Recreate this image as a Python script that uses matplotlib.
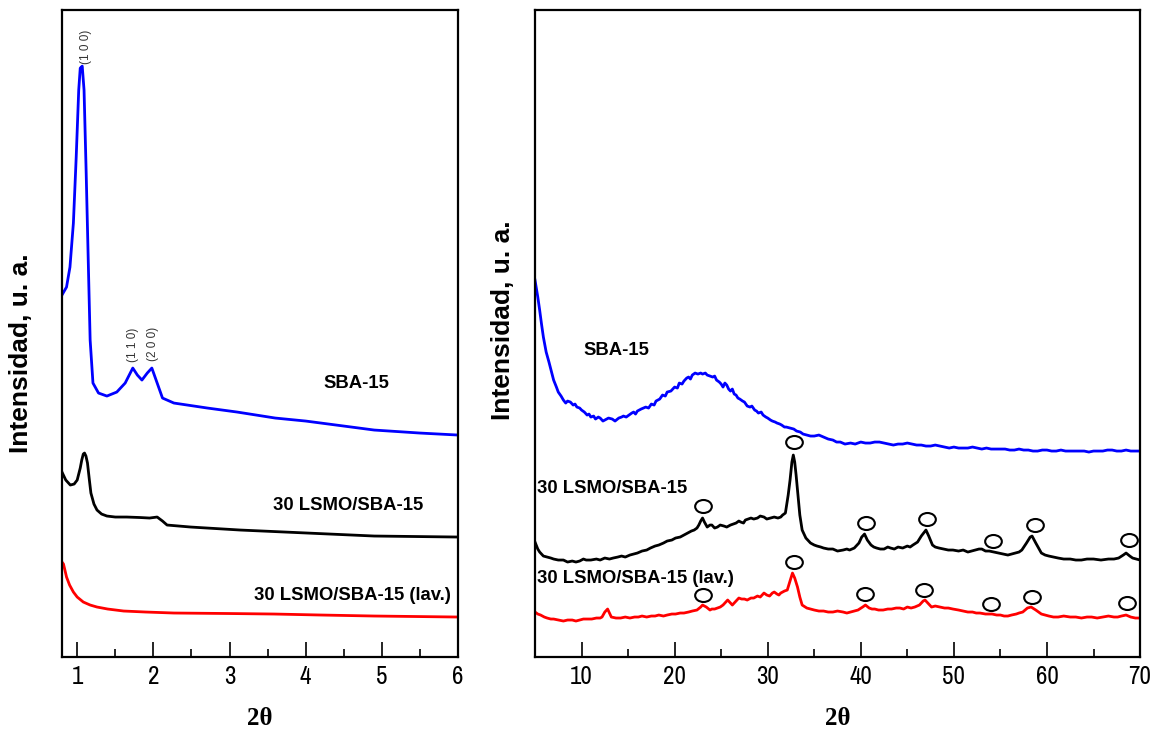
"""XRD patterns: SBA-15, 30 LSMO/SBA-15 and washed sample (low and wide angle)."""

import matplotlib

matplotlib.use("Agg")
import matplotlib.pyplot as plt
from matplotlib.path import Path
from matplotlib.transforms import Affine2D

# ---- low-angle panel (2theta 0.8-6), intensity in arbitrary units ----
low_sba_x = [0.8, 0.86, 0.905, 0.95, 0.987, 1.02, 1.04, 1.066, 1.09, 1.118, 1.149, 1.17, 1.207,
             1.28, 1.39, 1.52, 1.63, 1.73, 1.79, 1.85, 1.92, 1.98, 2.05, 2.12, 2.27, 2.71, 3.1,
             3.6, 4.0, 4.5, 4.9, 5.5, 6.0]
low_sba_y = [362, 370, 390, 434, 500, 567, 589, 591, 567, 484, 384, 317, 274,
             264, 261, 265, 274, 289, 282, 277, 284, 289, 274, 259, 254, 249, 245,
             239, 236, 231, 227, 224, 222]

low_lsmo_x = [0.8, 0.85, 0.91, 0.96, 1.0, 1.04, 1.06, 1.08, 1.096, 1.115, 1.135, 1.16, 1.18,
              1.22, 1.26, 1.32, 1.39, 1.5, 1.65, 1.83, 1.95, 2.05, 2.12, 2.18, 2.49, 3.14,
              4.02, 4.9, 6.0]
low_lsmo_y = [185, 177, 172, 173, 177, 189, 197, 203, 204, 201, 194, 177, 164,
              153, 147, 143, 141, 140, 140, 139.5, 139, 140, 136, 132, 130, 127,
              124, 121, 120]

low_lav_x = [0.8, 0.82, 0.86, 0.9, 0.95, 1.0, 1.08, 1.17, 1.26, 1.4, 1.61, 1.9, 2.27, 3.0,
             3.58, 4.2, 4.9, 6.0]
low_lav_y = [95, 93, 80, 72, 65, 60, 55, 52, 50, 48, 46, 45, 44, 43.5,
             43, 42, 41, 40]

low_hkl = ["(1 0 0)", "(1 1 0)", "(2 0 0)"]
low_hkl_x = [1.116, 1.734, 2.0]
low_hkl_y = [593, 295, 296]

# ---- wide-angle panel (2theta 5-70) ----
wide_sba_x = [5.0, 5.3, 5.5, 5.7, 5.9, 6.2, 6.5, 6.8, 7.0, 7.3, 7.5, 7.8, 8.05, 8.3, 8.5, 8.8,
              9.1, 9.3, 9.5, 9.8, 10.0, 10.3, 10.6, 10.8, 11.0, 11.3, 11.5, 11.8, 12.0, 12.3,
              12.5, 12.9, 13.3, 13.6, 14.0, 14.3, 14.5, 14.8, 15.1, 15.4, 15.6, 15.8, 16.0,
              16.4, 16.9, 17.2, 17.5, 17.8, 18.0, 18.4, 18.7, 19.0, 19.2, 19.6, 20.0, 20.3,
              20.5, 20.8, 21.0, 21.3, 21.5, 21.7, 21.9, 22.2, 22.5, 22.8, 23.0, 23.3, 23.5,
              23.8, 24.1, 24.3, 24.5, 24.8, 25.0, 25.2, 25.4, 25.6, 25.8, 26.0, 26.2, 26.4,
              26.6, 26.8, 27.0, 27.3, 27.5, 27.8, 28.1, 28.3, 28.6, 28.8, 29.0, 29.3, 29.5,
              29.8, 30.0, 30.3, 30.5, 30.8, 31.0, 31.3, 31.5, 31.8, 32.0, 32.4, 32.8, 33.1,
              33.5, 33.8, 34.2, 34.6, 35.0, 35.5, 36.0, 36.5, 37.0, 37.4, 37.8, 38.3, 38.9,
              39.4, 40, 40.5, 41, 41.5, 42, 42.5, 43, 43.5, 44, 44.5, 45, 45.5, 46, 46.5, 47,
              47.5, 48, 48.5, 49, 49.5, 50, 50.5, 51, 51.5, 52, 52.5, 53, 53.5, 54, 54.5, 55,
              55.5, 56, 56.5, 57, 57.5, 58, 58.5, 59, 59.5, 60, 60.5, 61, 61.5, 62, 62.5, 63,
              63.5, 64, 64.5, 65, 65.5, 66, 66.5, 67, 67.5, 68, 68.5, 69, 69.5, 70]
wide_sba_y = [377, 360, 347, 333, 320, 305, 295, 284, 277, 270, 265, 261, 257, 254, 256, 255,
              252, 253, 250, 249, 247, 245, 242, 243, 240, 241, 238, 240, 239, 236,
              237, 239, 238, 236, 239, 240, 241, 240, 242, 244, 245, 243, 246,
              248, 250, 249, 253, 252, 256, 258, 262, 261, 265, 266, 270, 269,
              274, 273, 276, 279, 280, 278, 282, 284, 283, 284, 283, 284, 282,
              281, 280, 281, 277, 275, 273, 270, 274, 272, 268, 266, 268, 263,
              262, 259, 258, 256, 255, 251, 250, 251, 247, 246, 244, 245, 242,
              240, 239, 237, 236, 235, 234, 233, 232, 230, 230, 229, 228, 226,
              225, 223, 222, 221, 221, 222, 220, 218, 217, 215, 215, 213, 214,
              213, 215, 214, 214, 215, 215, 214, 213, 212, 213, 213, 214, 213, 212, 212, 211,
              211, 212, 211, 210, 209, 210, 209, 209, 209, 210, 209, 208, 209, 208, 208, 208,
              208, 207, 207, 208, 207, 207, 206, 206, 207, 207, 206, 206, 207, 206, 206, 206,
              206, 206, 205, 206, 206, 206, 207, 207, 206, 206, 207, 206, 206, 206]

wide_lsmo_x = [5.0, 5.3, 5.5, 5.9, 6.3, 6.7, 7.0, 7.5, 8.05, 8.5, 9.0, 9.4, 9.8, 10.2, 10.5,
               11.0, 11.6, 12.0, 12.5, 13.0, 13.4, 13.9, 14.3, 14.7, 15.2, 15.6, 16.0, 16.5,
               17.0, 17.4, 17.9, 18.3, 18.8, 19.2, 19.7, 20.1, 20.6, 21.0, 21.4, 21.8, 22.1,
               22.4, 22.6, 22.8, 23.0, 23.2, 23.5, 23.8, 24.0, 24.3, 24.6, 24.9, 25.3, 25.6,
               26.0, 26.3, 26.6, 26.9, 27.1, 27.4, 27.6, 27.9, 28.2, 28.5, 28.9, 29.2, 29.6,
               29.9, 30.3, 30.7, 31.1, 31.4, 31.6, 31.9, 32.2, 32.4, 32.6, 32.75, 32.9, 33.05,
               33.2, 33.45, 33.7, 34.1, 34.6, 35.0, 35.3, 35.7, 36.0, 36.5, 37.0, 37.5, 38.1,
               38.5, 38.8, 39.3, 39.8, 40.1, 40.4, 40.7, 41.1, 41.4, 41.7, 42.1, 42.5, 42.9,
               43.2, 43.6, 44.0, 44.5, 45.0, 45.3, 45.6, 46.1, 46.5, 47.0, 47.3, 47.7, 48.0,
               48.4, 48.9, 49.4, 49.9, 50.5, 51.0, 51.5, 51.9, 52.3, 52.7, 53.0, 53.4, 53.8,
               54.3, 54.8, 55.3, 55.8, 56.2, 56.6, 57.0, 57.3, 57.8, 58.2, 58.4, 58.8, 59.4,
               59.8, 60.2, 60.7, 61.2, 61.8, 62.5, 63.1, 63.7, 64.3, 65.0, 65.8, 66.6, 67.2,
               67.7, 68.2, 68.5, 68.9, 69.2, 69.6, 70.0]
wide_lsmo_y = [115, 108, 105, 101, 100, 99, 98, 97, 97, 95, 96, 95, 96, 98, 97,
               97, 98, 97, 99, 98, 99, 100, 101, 100, 102, 103, 104, 106,
               107, 109, 111, 112, 114, 116, 117, 119, 120, 122, 124, 126, 127,
               129, 132, 136, 139, 135, 130, 132, 132, 129, 130, 132, 131, 130,
               132, 133, 134, 136, 135, 134, 137, 138, 139, 138, 139, 141, 140,
               138, 139, 140, 139, 140, 142, 144, 162, 177, 195, 202, 195, 182,
               167, 142, 127, 119, 114, 112, 111, 110, 109, 108, 108, 106, 107,
               108, 107, 109, 114, 120, 123, 117, 112, 110, 109, 108, 108, 110,
               109, 108, 110, 109, 111, 110, 112, 115, 121, 127, 121, 112, 110,
               109, 108, 107, 107, 106, 107, 105, 106, 107, 108, 108, 106, 106,
               105, 104, 103, 102, 103, 104, 105, 107, 114, 120, 121, 114, 104,
               102, 101, 100, 99, 98, 98, 97, 97, 98, 98, 97, 98, 98,
               99, 102, 104, 101, 99, 98, 97]

wide_lav_x = [5.0, 5.3, 5.6, 6.0, 6.3, 6.7, 7.0, 7.5, 8.05, 8.5, 9.0, 9.4, 9.8, 10.2, 10.7,
              11.1, 11.6, 12.0, 12.2, 12.5, 12.8, 13.0, 13.2, 13.7, 14.2, 14.7, 15.2, 15.7,
              16.1, 16.5, 17.0, 17.5, 17.9, 18.3, 18.8, 19.2, 19.7, 20.1, 20.6, 21.0, 21.5,
              21.9, 22.4, 22.8, 23.0, 23.4, 23.8, 24.0, 24.3, 24.6, 24.9, 25.2, 25.4, 25.7,
              26.0, 26.2, 26.6, 26.9, 27.2, 27.5, 27.8, 28.2, 28.5, 28.9, 29.2, 29.6, 29.9,
              30.2, 30.5, 30.7, 31.0, 31.2, 31.4, 31.8, 32.1, 32.4, 32.66, 32.9, 33.2, 33.45,
              33.7, 34.2, 34.6, 35.0, 35.5, 36.0, 36.5, 37.0, 37.5, 38.1, 38.5, 38.9, 39.3,
              39.7, 40.2, 40.5, 40.9, 41.2, 41.5, 41.9, 42.4, 42.9, 43.3, 43.8, 44.2, 44.6,
              45.0, 45.4, 45.8, 46.3, 46.7, 46.9, 47.2, 47.6, 48.0, 48.5, 49.0, 49.4, 49.9,
              50.5, 51.0, 51.5, 52.0, 52.4, 52.8, 53.4, 54.1, 54.6, 55.0, 55.4, 55.8, 56.2,
              56.7, 57.0, 57.4, 57.9, 58.3, 58.8, 59.4, 59.8, 60.2, 60.7, 61.2, 61.8, 62.5,
              63.1, 63.7, 64.3, 64.8, 65.4, 66.0, 66.6, 67.2, 67.6, 68.0, 68.5, 69.0, 69.5,
              70.0]
wide_lav_y = [45, 43, 42, 40, 39, 38, 38, 37, 36, 37, 37, 36, 37, 38, 38,
              38, 39, 39, 40, 45, 48, 44, 40, 39, 39, 40, 39, 40,
              40, 41, 40, 41, 41, 42, 41, 42, 43, 43, 44, 44, 45,
              46, 47, 50, 52, 50, 47, 48, 48, 49, 50, 52, 54, 57,
              54, 52, 56, 59, 58, 58, 57, 59, 59, 61, 60, 64, 62,
              61, 64, 65, 63, 62, 64, 66, 67, 76, 84, 79, 70, 60,
              52, 49, 48, 47, 46, 46, 45, 45, 46, 45, 44, 45, 46,
              47, 50, 52, 49, 48, 48, 47, 47, 48, 48, 49, 49, 48,
              50, 49, 50, 52, 56, 57, 54, 50, 51, 50, 49, 49, 48,
              47, 46, 45, 45, 44, 44, 43, 43, 42, 42, 41, 41, 42,
              43, 44, 45, 49, 50, 47, 43, 42, 41, 40, 40, 41, 40,
              40, 39, 40, 40, 39, 40, 41, 40, 40, 41, 42, 40, 39,
              39]

# perovskite reflections marked with open circles
lsmo_mark_x = [23.0, 32.8, 40.6, 47.1, 54.2, 58.7, 68.8]
lsmo_mark_y = [151, 215, 134, 138, 116, 132, 117]
lav_mark_x = [23.0, 32.8, 40.5, 46.8, 54.0, 58.4, 68.6]
lav_mark_y = [62, 95, 63, 67, 53, 60, 54]

LABELS = ["SBA-15", "30 LSMO/SBA-15", "30 LSMO/SBA-15 (lav.)"]
COLORS = ["#0000ff", "#000000", "#ff0000"]

SANS = ["Liberation Sans", "DejaVu Sans"]
NARROW = ["Archivo Narrow", "Liberation Sans", "DejaVu Sans"]
SERIF = ["Liberation Serif", "DejaVu Serif"]

# slightly flattened open circle, like the reference markers
ring = Path.unit_circle().transformed(Affine2D().scale(1.0, 0.78))


def style_axes(ax, xlim, major, minor, ylab_x, ylab_y):
    ax.set_xlim(*xlim)
    ax.set_ylim(0, 647)
    ax.set_yticks([])
    ax.set_xticks(major)
    ax.set_xticks(minor, minor=True)
    ax.tick_params(axis="x", which="major", direction="in", length=11, width=1.2,
                   labelsize=18, pad=6)
    ax.tick_params(axis="x", which="minor", direction="in", length=6, width=1.2)
    for lab in ax.get_xticklabels():
        lab.set_family(NARROW)
    for sp in ax.spines.values():
        sp.set_linewidth(1.6)
    ax.set_xlabel("2\u03b8", family=SERIF, fontweight="bold", fontsize=18, va="top")
    ax.xaxis.set_label_coords(0.5, -0.077)
    ax.set_ylabel("Intensidad, u. a.", family=SANS, fontweight="bold", fontsize=19)
    ax.yaxis.set_label_coords(ylab_x, ylab_y)


fig = plt.figure(figsize=(11.56, 7.31), dpi=100)
ax1 = fig.add_axes([0.0536, 0.1012, 0.3426, 0.885])
ax2 = fig.add_axes([0.4628, 0.1012, 0.5234, 0.885])

# low angle
for xs, ys, c in zip([low_sba_x, low_lsmo_x, low_lav_x], [low_sba_y, low_lsmo_y, low_lav_y], COLORS):
    ax1.plot(xs, ys, color=c, lw=2.0, solid_joinstyle="round")
for t, x, y in zip(low_hkl, low_hkl_x, low_hkl_y):
    ax1.text(x, y, t, rotation=90, ha="center", va="bottom", fontsize=8.5, color="#333333",
             family=SANS, clip_on=False)
ax1.text(4.66, 274, LABELS[0], ha="center", va="center", fontsize=13.3, fontweight="bold", family=SANS)
ax1.text(4.56, 152, LABELS[1], ha="center", va="center", fontsize=13.3, fontweight="bold", family=SANS)
ax1.text(4.62, 62, LABELS[2], ha="center", va="center", fontsize=13.3, fontweight="bold", family=SANS)
style_axes(ax1, (0.8, 6), [1, 2, 3, 4, 5, 6], [1.5, 2.5, 3.5, 4.5, 5.5], -0.073, 0.47)

# wide angle
for xs, ys, c in zip([wide_sba_x, wide_lsmo_x, wide_lav_x], [wide_sba_y, wide_lsmo_y, wide_lav_y], COLORS):
    ax2.plot(xs, ys, color=c, lw=2.0, solid_joinstyle="round")
ax2.plot(lsmo_mark_x, lsmo_mark_y, ls="none", marker=ring, ms=12, mfc="white", mec="black", mew=1.5)
ax2.plot(lav_mark_x, lav_mark_y, ls="none", marker=ring, ms=12, mfc="white", mec="black", mew=1.5)
ax2.text(13.7, 307, LABELS[0], ha="center", va="center", fontsize=13.3, fontweight="bold", family=SANS)
ax2.text(5.2, 169, LABELS[1], ha="left", va="center", fontsize=13.3, fontweight="bold", family=SANS)
ax2.text(5.2, 79, LABELS[2], ha="left", va="center", fontsize=13.3, fontweight="bold", family=SANS)
style_axes(ax2, (5, 70), [10, 20, 30, 40, 50, 60, 70], [15, 25, 35, 45, 55, 65], -0.033, 0.52)

fig.savefig("out.png", dpi=100)
